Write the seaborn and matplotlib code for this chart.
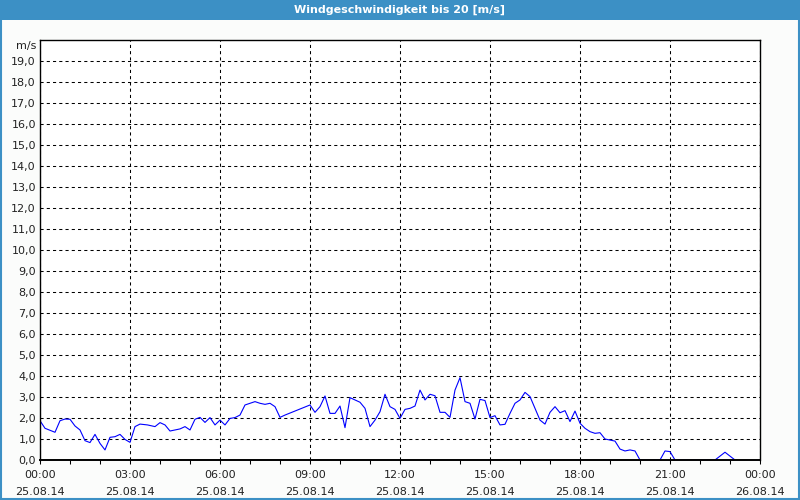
import matplotlib
matplotlib.use("Agg")
import matplotlib.pyplot as plt
from matplotlib.patches import Rectangle
from matplotlib.ticker import MultipleLocator, FuncFormatter
import seaborn as sns
import pandas as pd

# ---- data ----
times = ["00:00", "00:10", "00:30", "00:40", "00:50", "01:00", "01:10", "01:20", "01:30", "01:40",
         "01:50", "02:00", "02:10", "02:20", "02:30", "02:40", "02:50", "03:00", "03:10", "03:20",
         "03:35", "03:50", "04:00", "04:10", "04:20", "04:30", "04:40", "04:50", "05:00", "05:10",
         "05:20", "05:30", "05:40", "05:50", "06:00", "06:10", "06:20", "06:30", "06:40", "06:50",
         "07:00", "07:10", "07:20", "07:30", "07:40", "07:50", "08:00", "08:10", "09:00", "09:10",
         "09:20", "09:30", "09:40", "09:50", "10:00", "10:10", "10:20", "10:30", "10:40", "10:50",
         "11:00", "11:10", "11:20", "11:30", "11:40", "11:50", "12:00", "12:10", "12:20", "12:30",
         "12:40", "12:50", "13:00", "13:10", "13:20", "13:30", "13:40", "13:50", "14:00", "14:10",
         "14:20", "14:30", "14:40", "14:50", "15:00", "15:10", "15:20", "15:30", "15:40", "15:50",
         "16:00", "16:10", "16:20", "16:30", "16:40", "16:50", "17:00", "17:10", "17:20", "17:30",
         "17:40", "17:50", "18:00", "18:10", "18:20", "18:30", "18:40", "18:50", "19:00", "19:10",
         "19:20", "19:30", "19:40", "19:50", "20:00", "20:40", "20:50", "21:00", "21:10", "22:30",
         "22:50", "23:10"]
speed = [1.87, 1.51, 1.32, 1.87, 1.95, 1.94, 1.62, 1.43, 0.92, 0.83,
         1.22, 0.79, 0.48, 1.08, 1.11, 1.22, 0.98, 0.84, 1.59, 1.71,
         1.67, 1.59, 1.78, 1.67, 1.38, 1.43, 1.48, 1.59, 1.43, 1.94,
         2.03, 1.79, 2.02, 1.67, 1.90, 1.67, 1.98, 2.02, 2.14, 2.62,
         2.70, 2.78, 2.70, 2.65, 2.70, 2.54, 2.03, 2.14, 2.62, 2.27,
         2.54, 3.05, 2.22, 2.22, 2.57, 1.54, 2.97, 2.86, 2.75, 2.46,
         1.59, 1.90, 2.30, 3.13, 2.54, 2.41, 1.98, 2.41, 2.46, 2.57,
         3.33, 2.86, 3.13, 3.06, 2.27, 2.27, 2.03, 3.33, 3.92, 2.78,
         2.70, 1.95, 2.89, 2.83, 2.02, 2.11, 1.67, 1.70, 2.22, 2.70,
         2.86, 3.22, 3.02, 2.46, 1.90, 1.71, 2.27, 2.54, 2.25, 2.35,
         1.83, 2.33, 1.75, 1.51, 1.35, 1.27, 1.30, 1.00, 0.95, 0.90,
         0.52, 0.43, 0.48, 0.43, 0.00, 0.00, 0.43, 0.40, 0.00, 0.00,
         0.37, 0.00]
x_tick_hours = [0, 3, 6, 9, 12, 15, 18, 21, 24]
x_tick_labels = ["00:00\n25.08.14", "03:00\n25.08.14", "06:00\n25.08.14", "09:00\n25.08.14",
                 "12:00\n25.08.14", "15:00\n25.08.14", "18:00\n25.08.14", "21:00\n25.08.14",
                 "00:00\n26.08.14"]
title = "Windgeschwindigkeit bis 20 [m/s]"
unit = "m/s"

df = pd.DataFrame({"time": times, "speed": speed})
df["hours"] = df["time"].map(lambda s: int(s[:2]) + int(s[3:]) / 60.0)

sns.set_theme(style="white")
plt.rcParams["font.family"] = ["DejaVu Sans"]

BLUE = "#3c90c5"
fig = plt.figure(figsize=(8, 5), dpi=100, facecolor="#fbfcfb")
# title bar and frame
fig.patches.append(Rectangle((0, 0.96), 1, 0.04, transform=fig.transFigure,
                             facecolor=BLUE, edgecolor="none", zorder=0))
fig.patches.append(Rectangle((0.0015, 0.002), 0.997, 0.996, transform=fig.transFigure,
                             facecolor="none", edgecolor=BLUE, linewidth=1.5, zorder=0))
fig.text(0.5, 0.98, title, color="white", fontsize=8, fontweight="bold",
         ha="center", va="center")

ax = fig.add_axes([0.05, 0.08, 0.90, 0.84])
ax.set_facecolor("white")
sns.lineplot(data=df, x="hours", y="speed", color="#0000ff", linewidth=0.8,
             errorbar=None, ax=ax, zorder=2)

ax.set_xlim(0, 24)
ax.set_ylim(0, 20)
ax.set_xticks(x_tick_hours)
ax.set_xticklabels(x_tick_labels)
ax.xaxis.set_minor_locator(MultipleLocator(1))
ax.set_yticks(range(0, 20))
ax.yaxis.set_major_formatter(FuncFormatter(lambda v, p: f"{v:.1f}".replace(".", ",")))
ax.set_xlabel("")
ax.set_ylabel("")

ax.grid(True, which="major", color="black", linestyle=(0, (3, 3)), linewidth=0.75)
ax.set_axisbelow(True)
for s in ax.spines.values():
    s.set_color("black")
    s.set_linewidth(1.0)
    s.set_zorder(3)
ax.spines["bottom"].set_linewidth(1.4)

ax.tick_params(axis="x", which="both", direction="out", length=3, width=0.75,
               color="black", labelsize=8, labelcolor="#222222", pad=4, bottom=True)
ax.tick_params(axis="y", which="both", length=0, labelsize=8, labelcolor="#222222", pad=3)
for lab in ax.get_xticklabels():
    lab.set_linespacing(1.9)

fig.text(0.046, 0.908, unit, fontsize=8, color="#222222", ha="right", va="center")

fig.savefig("out.png", dpi=100, facecolor=fig.get_facecolor())
